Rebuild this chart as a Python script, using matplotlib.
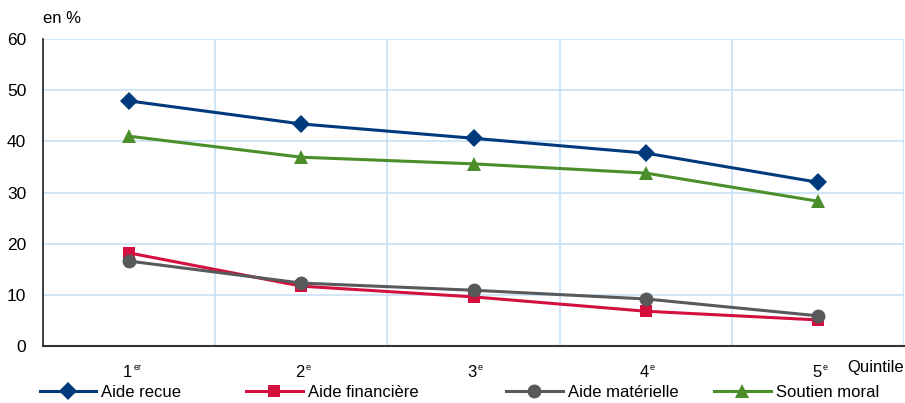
import matplotlib
matplotlib.use("Agg")
import matplotlib.pyplot as plt
from matplotlib import font_manager
import numpy as np

quintiles = ["1", "2", "3", "4", "5"]
suffixes = ["er", "e", "e", "e", "e"]

aide_recue = [47.9, 43.4, 40.6, 37.7, 32.0]
aide_financiere = [18.2, 11.7, 9.6, 6.8, 5.1]
aide_materielle = [16.6, 12.3, 10.9, 9.2, 5.9]
soutien_moral = [41.0, 36.9, 35.6, 33.8, 28.3]

names = {f.name for f in font_manager.fontManager.ttflist}
family = "Liberation Sans Narrow" if "Liberation Sans Narrow" in names else "Liberation Sans"
plt.rcParams["font.family"] = [family, "DejaVu Sans"]

series = [
    ("Aide recue", aide_recue, "#003a7d", "D", 9.5),
    ("Aide financière", aide_financiere, "#d4103f", "s", 9),
    ("Aide matérielle", aide_materielle, "#58595b", "o", 10),
    ("Soutien moral", soutien_moral, "#4b8f2b", "^", 10),
]

fig = plt.figure(figsize=(9.05, 4.03), dpi=100)
ax = fig.add_axes([0.0475, 0.1414, 0.9515, 0.7618])

x = np.arange(len(quintiles))
handles = []
for label, vals, color, marker, ms in series:
    h, = ax.plot(x, vals, color=color, lw=2.2, marker=marker, markersize=ms,
                 markeredgewidth=0, label=label, zorder=3)
    handles.append(h)

ax.set_xlim(-0.5, 4.5)
ax.set_ylim(0, 60)
ax.set_yticks(np.arange(0, 61, 10))
ax.set_xticks(x)
ax.set_xticklabels([""] * len(x))
ax.set_xticks(np.arange(-0.5, 5, 1), minor=True)
ax.grid(axis="y", color="#c7e1f5", lw=1.2, zorder=0)
ax.grid(axis="x", which="minor", color="#c7e1f5", lw=1.2, zorder=0)
ax.tick_params(axis="both", which="both", length=0, labelsize=12.5)
ax.tick_params(axis="y", pad=12)

for sp in ["top", "right"]:
    ax.spines[sp].set_visible(False)
ax.spines["left"].set_color("#222222")
ax.spines["left"].set_linewidth(1.2)
ax.spines["bottom"].set_color("#333333")
ax.spines["bottom"].set_linewidth(1.5)

for xi, q, s in zip(x, quintiles, suffixes):
    ax.annotate(q, xy=(xi, 0), xycoords=("data", "axes fraction"),
                xytext=(-1, -14), textcoords="offset points",
                ha="center", va="top", fontsize=12)
    ax.annotate(s, xy=(xi, 0), xycoords=("data", "axes fraction"),
                xytext=(3, -12), textcoords="offset points",
                ha="left", va="top", fontsize=6.5)

fig.text(0.047, 0.955, "en %", fontsize=12, ha="left", va="center")
fig.text(0.999, 0.088, "Quintile", fontsize=12, ha="right", va="center")

# one legend per entry so the spacing follows the reference
leg_x = [0.044, 0.272, 0.559, 0.789]
for h, lx in zip(handles, leg_x):
    fig.legend(handles=[h], loc="center left", bbox_to_anchor=(lx, 0.026),
               frameon=False, fontsize=12, handlelength=3.4,
               handletextpad=0.3, borderaxespad=0, borderpad=0)

fig.savefig("out.png", dpi=100)
